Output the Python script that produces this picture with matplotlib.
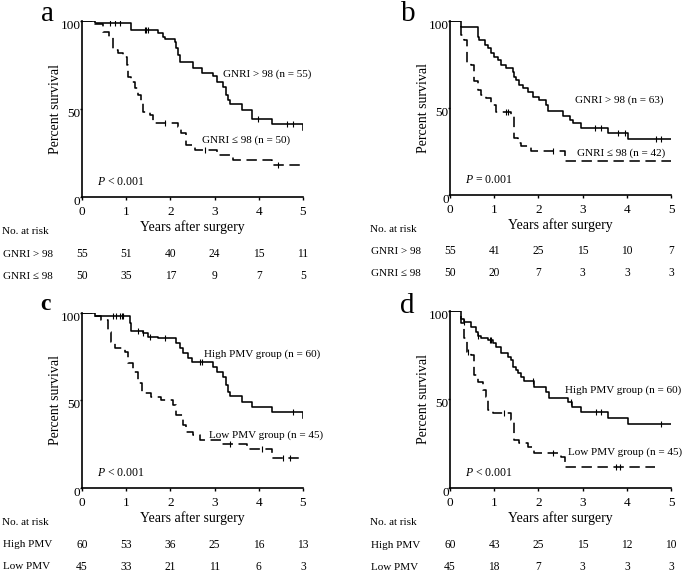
import numpy as np
import matplotlib.pyplot as plt
import matplotlib.transforms as mtransforms

plt.rcParams['font.family'] = ['Liberation Serif', 'DejaVu Serif']
plt.rcParams['mathtext.fontset'] = 'custom'
plt.rcParams['mathtext.it'] = 'Liberation Serif:italic'
plt.rcParams['mathtext.rm'] = 'Liberation Serif'

# ---- data ----
years = [0, 1, 2, 3, 4, 5]

# panel a: GNRI (overall survival)
a_hi_t = [0, 0.29, 1.12, 1.72, 1.83, 1.88, 2.1, 2.13, 2.17, 2.21, 2.51, 2.71, 2.97, 3.05, 3.2, 3.26, 3.3, 3.35, 3.61, 3.84, 4.29, 4.99]
a_hi_s = [100, 98.7, 94.9, 93, 91.1, 89.8, 88.3, 84.5, 80.7, 76.9, 73.1, 70.3, 68.5, 65.5, 62.7, 58, 55, 52.7, 49.4, 44.3, 41.3, 38]
a_hi_cens = [0.63, 0.75, 0.86, 1.42, 1.45, 1.49, 3.98, 4.64, 4.77]
a_lo_t = [0, 0.29, 0.48, 0.6, 0.7, 0.81, 0.93, 1.02, 1.04, 1.12, 1.21, 1.27, 1.34, 1.38, 1.53, 1.6, 2.17, 2.25, 2.36, 2.56, 3.05, 3.41, 4.29]
a_lo_s = [100, 98.3, 94, 91, 83.5, 81.6, 79.7, 75, 68.4, 65.5, 61.7, 58, 54.2, 48.5, 46.6, 41.9, 40, 36.2, 29.5, 26.7, 23.9, 21, 18.2]
a_lo_cens = [1.88, 2.78, 4.43]

# panel b: GNRI (second endpoint)
b_hi_t = [0, 0.25, 0.63, 0.66, 0.78, 0.85, 0.93, 1.0, 1.08, 1.15, 1.27, 1.42, 1.45, 1.49, 1.57, 1.64, 1.76, 1.87, 2.02, 2.17, 2.21, 2.56, 2.71, 2.78, 2.97, 3.57, 4.03]
b_hi_s = [100, 96.7, 91, 89.1, 86.2, 84.3, 81.4, 79.5, 77.6, 74.7, 73.2, 70.9, 68, 66.1, 63.2, 61.3, 59, 56.5, 54.6, 51.7, 48.5, 45.2, 43.1, 41.2, 38.3, 35.4, 32]
b_hi_cens = [3.28, 3.42, 3.8, 3.96, 4.66, 4.77]
b_lo_t = [0, 0.25, 0.32, 0.38, 0.47, 0.55, 0.63, 0.7, 0.81, 0.93, 1.04, 1.38, 1.45, 1.53, 1.6, 1.83, 2.6]
b_lo_s = [100, 92, 89.1, 75.7, 74.7, 65.5, 60.3, 57.5, 55.6, 51.7, 47.6, 45.2, 32.8, 29.9, 28, 25.1, 19.3]
b_lo_cens = [1.27, 1.31, 2.33]

# panel c: PMV (overall survival)
c_hi_t = [0, 0.29, 1.08, 1.12, 1.38, 1.49, 1.72, 2.13, 2.21, 2.29, 2.4, 2.48, 2.97, 3.05, 3.2, 3.25, 3.3, 3.35, 3.61, 3.84, 4.29, 4.99]
c_hi_s = [100, 98.3, 94.1, 89.7, 88.4, 86.5, 85.5, 82.7, 79.8, 77, 74.1, 71.8, 69.3, 66.5, 63.6, 58.9, 54.7, 52.7, 49.3, 46.5, 43.3, 40.2]
c_hi_cens = [0.7, 0.77, 0.86, 0.9, 0.93, 1.27, 1.38, 1.54, 1.88, 2.67, 2.72, 4.77]
c_lo_t = [0, 0.29, 0.44, 0.59, 0.66, 0.74, 0.97, 1.04, 1.15, 1.27, 1.36, 1.57, 1.79, 2.06, 2.13, 2.29, 2.36, 2.52, 2.67, 3.16, 3.73, 4.29]
c_lo_s = [100, 98.3, 96, 89.3, 83.6, 79.8, 77.9, 71.2, 66.5, 59.8, 54.1, 52.2, 50.3, 47.4, 41.7, 36, 32.2, 30.3, 27.3, 25.3, 22.3, 17]
c_lo_cens = [3.35, 4.07, 4.55, 4.7]

# panel d: PMV (second endpoint)
d_hi_t = [0, 0.25, 0.32, 0.47, 0.59, 0.63, 0.7, 0.85, 0.97, 1.04, 1.15, 1.31, 1.38, 1.42, 1.49, 1.53, 1.6, 1.68, 1.91, 2.17, 2.25, 2.67, 2.75, 2.97, 3.57, 4.03]
d_hi_s = [100, 95.5, 94, 91.1, 88.3, 86, 84.6, 83.6, 81.7, 79.8, 76.1, 74.2, 72.3, 68.5, 66.7, 64.8, 62.9, 60.5, 57.2, 54.4, 50.6, 48.8, 45.9, 42.7, 39.4, 36.2]
d_hi_cens = [0.32, 0.63, 0.9, 0.93, 1.88, 2.74, 3.3, 3.42, 4.77]
d_lo_t = [0, 0.25, 0.32, 0.38, 0.47, 0.55, 0.63, 0.74, 0.81, 0.85, 0.97, 1.38, 1.45, 1.57, 1.76, 1.91, 2.52, 2.6]
d_lo_s = [100, 93, 84.7, 77, 75.1, 63.8, 60, 55.4, 51.6, 44, 42.2, 38.4, 27.1, 25.3, 23.3, 19.6, 17.7, 12]
d_lo_cens = [0.41, 1.22, 2.33, 3.76, 3.85]

# numbers at risk
a_risk_hi = [55, 51, 40, 24, 15, 11]
a_risk_lo = [50, 35, 17, 9, 7, 5]
b_risk_hi = [55, 41, 25, 15, 10, 7]
b_risk_lo = [50, 20, 7, 3, 3, 3]
c_risk_hi = [60, 53, 36, 25, 16, 13]
c_risk_lo = [45, 33, 21, 11, 6, 3]
d_risk_hi = [60, 43, 25, 15, 12, 10]
d_risk_lo = [45, 18, 7, 3, 3, 3]

panels = [
    dict(letter='a', rect=[0.1197, 0.6598, 0.3226, 0.304], hi=(a_hi_t, a_hi_s, a_hi_cens, 5.0), lo=(a_lo_t, a_lo_s, a_lo_cens, 5.0),
         hi_lab=('GNRI > 98 (n = 55)', 3.19, 70), lo_lab=('GNRI ≤ 98 (n = 50)', 2.71, 32.5), p='$P$ < 0.001',
         rows=('GNRI > 98', 'GNRI ≤ 98'), risk=(a_risk_hi, a_risk_lo)),
    dict(letter='b', rect=[0.657, 0.6632, 0.3226, 0.3005], hi=(b_hi_t, b_hi_s, b_hi_cens, 5.0), lo=(b_lo_t, b_lo_s, b_lo_cens, 5.0),
         hi_lab=('GNRI > 98 (n = 63)', 2.83, 54.5), lo_lab=('GNRI ≤ 98 (n = 42)', 2.87, 24), p='$P$ = 0.001',
         rows=('GNRI > 98', 'GNRI ≤ 98'), risk=(b_risk_hi, b_risk_lo)),
    dict(letter='c', rect=[0.1197, 0.1572, 0.3226, 0.3022], hi=(c_hi_t, c_hi_s, c_hi_cens, 5.0), lo=(c_lo_t, c_lo_s, c_lo_cens, 5.0),
         hi_lab=('High PMV group (n = 60)', 2.76, 76.5), lo_lab=('Low PMV group (n = 45)', 2.88, 30), p='$P$ < 0.001',
         rows=('High PMV', 'Low PMV'), risk=(c_risk_hi, c_risk_lo)),
    dict(letter='d', rect=[0.657, 0.1572, 0.3226, 0.3057], hi=(d_hi_t, d_hi_s, d_hi_cens, 5.0), lo=(d_lo_t, d_lo_s, d_lo_cens, 4.64),
         hi_lab=('High PMV group (n = 60)', 2.6, 55.5), lo_lab=('Low PMV group (n = 45)', 2.68, 20), p='$P$ < 0.001',
         rows=('High PMV', 'Low PMV'), risk=(d_risk_hi, d_risk_lo)),
]


def step_value(t, s, x):
    i = np.searchsorted(t, x, side='right') - 1
    return np.asarray(s)[i]


def km(ax, t, s, cens, end, ls):
    tt = list(t) + [end]
    ss = list(s) + [s[-1]]
    line, = ax.step(tt, ss, where='post', color='black', lw=1.15)
    if ls == 'dash':
        line.set_dashes((6.5, 3.5))
    ax.plot(cens, step_value(t, s, cens), ls='none', marker='|', ms=4, mew=0.8, color='black')


fig = plt.figure(figsize=(6.85, 5.79), dpi=100)
# baseline positions of the panel letters (figure fraction)
letter_pos = {'a': (0.069, 0.964), 'b': (0.596, 0.964), 'c': (0.066, 0.465), 'd': (0.594, 0.459)}
shift_down = mtransforms.ScaledTranslation(0, -0.035, fig.dpi_scale_trans)

for p in panels:
    ax = fig.add_axes(p['rect'])
    km(ax, *p['hi'], ls='solid')
    km(ax, *p['lo'], ls='dash')
    ax.set_xlim(0, 5)
    ax.set_ylim(0, 100)
    ax.set_xticks(years)
    ax.set_yticks([0, 50, 100])
    for side in ['top', 'right']:
        ax.spines[side].set_visible(False)
    for side in ['left', 'bottom']:
        ax.spines[side].set_linewidth(1.2)
    ax.tick_params(axis='x', labelsize=9.5, length=2.5, width=1, pad=4)
    ax.tick_params(axis='y', labelsize=9.5, length=1.5, width=1, pad=-0.5)
    for lab in ax.get_yticklabels():
        lab.set_transform(lab.get_transform() + shift_down)
    ax.set_xlabel('Years after surgery', fontsize=10, labelpad=1.5)
    ax.set_ylabel('Percent survival', fontsize=10, labelpad=-1)

    txt, x, y = p['hi_lab']
    ax.text(x, y, txt, fontsize=8, va='center')
    txt, x, y = p['lo_lab']
    ax.text(x, y, txt, fontsize=8, va='center')
    ax.text(0.33, 8.5, p['p'], fontsize=8.5, va='center')

    # risk table
    tr = ax.get_xaxis_transform()
    ax.text(-1.81, -0.197, 'No. at risk', fontsize=8, transform=tr, va='center', clip_on=False)
    for row, yy, vals in zip(p['rows'], [-0.324, -0.449], p['risk']):
        ax.text(-1.79, yy, row, fontsize=8, transform=tr, va='center', clip_on=False)
        for xx, v in zip(years, vals):
            ax.text(xx, yy, str(v), fontsize=8.3, transform=tr, ha='center', va='center', clip_on=False)

    lx, ly = letter_pos[p['letter']]
    is_c = p['letter'] == 'c'
    fig.text(lx, ly, p['letter'], fontsize=17 if is_c else 21, ha='center', va='baseline',
             fontweight='bold' if is_c else 'normal')

fig.savefig('out.png', dpi=100)
